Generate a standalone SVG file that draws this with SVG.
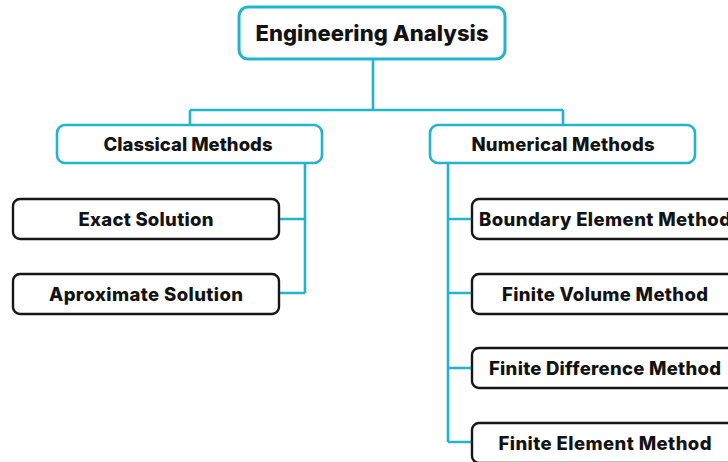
<svg xmlns="http://www.w3.org/2000/svg" width="728" height="462" viewBox="0 0 728 462">
<style>
.root{fill:#fff;stroke:#22b3cf;stroke-width:3}
.cat{fill:#fff;stroke:#22b3cf;stroke-width:2.6}
.leaf{fill:#fff;stroke:#161616;stroke-width:2.4}
.conn{fill:none;stroke:#22b3cf;stroke-width:2.6}
text{font-family:Inter,"Open Sans","DejaVu Sans",sans-serif;font-weight:800;fill:#121212;text-anchor:middle}
.t1{font-size:22px}
.t2{font-size:18.5px}
</style>
<rect width="728" height="462" fill="#fff"/>
<g id="connectors">
<path class="conn" d="M373 60V110M190 110H563M190 110V125M563 110V125"/>
<path class="conn" d="M305 164V293M280 219H305M280 293H305"/>
<path class="conn" d="M448 164V442M448 219H472M448 293H472M448 368H472M448 442H472"/>
</g>
<g id="engineering-analysis">
<rect class="root" x="239" y="7" width="266" height="52" rx="9"/>
<text class="t1" x="372" y="41" textLength="233">Engineering Analysis</text>
</g>
<g id="classical-methods">
<rect class="cat" x="57" y="125" width="265" height="38" rx="8"/>
<text class="t2" x="188" y="151" textLength="169">Classical Methods</text>
</g>
<g id="numerical-methods">
<rect class="cat" x="430" y="125" width="265" height="38" rx="8"/>
<text class="t2" x="563" y="151" textLength="183">Numerical Methods</text>
</g>
<g id="exact-solution">
<rect class="leaf" x="13" y="199" width="266" height="40" rx="7"/>
<text class="t2" x="146" y="226" textLength="135">Exact Solution</text>
</g>
<g id="aproximate-solution">
<rect class="leaf" x="13" y="274" width="266" height="40" rx="7"/>
<text class="t2" x="146" y="301" textLength="194">Aproximate Solution</text>
</g>
<g id="boundary-element-method">
<rect class="leaf" x="472" y="199" width="266" height="40" rx="7"/>
<text class="t2" x="605" y="226" textLength="252">Boundary Element Method</text>
</g>
<g id="finite-volume-method">
<rect class="leaf" x="472" y="274" width="266" height="40" rx="7"/>
<text class="t2" x="605" y="301" textLength="206">Finite Volume Method</text>
</g>
<g id="finite-difference-method">
<rect class="leaf" x="472" y="348" width="266" height="40" rx="7"/>
<text class="t2" x="605" y="375" textLength="232">Finite Difference Method</text>
</g>
<g id="finite-element-method">
<rect class="leaf" x="472" y="423" width="266" height="40" rx="7"/>
<text class="t2" x="605" y="450" textLength="213">Finite Element Method</text>
</g>
</svg>
